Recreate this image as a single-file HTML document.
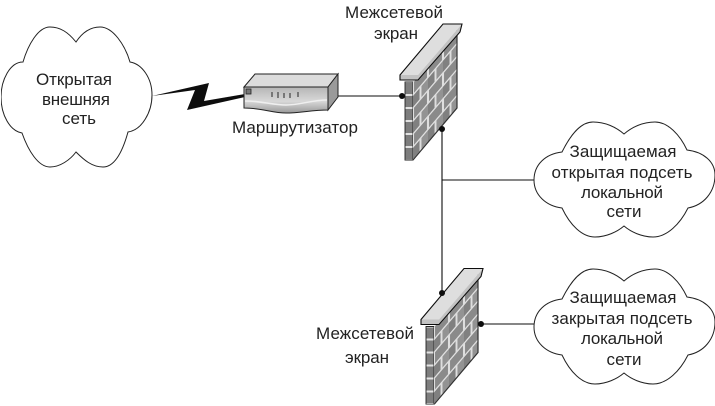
<!DOCTYPE html>
<html lang="ru">
<head>
<meta charset="utf-8">
<title>Схема сети</title>
<style>
html,body{margin:0;padding:0;background:#fff;width:715px;height:406px;overflow:hidden}
svg{display:block}
text{font-family:"Liberation Sans",sans-serif;font-size:17px;fill:#222;text-anchor:middle}
</style>
</head>
<body>
<svg width="715" height="406" viewBox="0 0 715 406" xmlns="http://www.w3.org/2000/svg">
<defs>
<filter id="soft" x="0" y="0" width="100%" height="100%"><feGaussianBlur stdDeviation="0.35"/></filter>
<pattern id="bricks" width="15" height="26" patternUnits="userSpaceOnUse" patternTransform="matrix(1 -1.17 0 1 413 82)">
<rect width="15" height="26" fill="#dedede"/>
<rect x="1" y="1" width="13" height="11" fill="#8a8a8a"/>
<rect x="-6.5" y="14" width="13" height="11" fill="#808080"/>
<rect x="8.5" y="14" width="13" height="11" fill="#939393"/>
</pattern>
<pattern id="strip" width="8" height="13" patternUnits="userSpaceOnUse" patternTransform="translate(405 82)">
<rect width="8" height="13" fill="#e2e2e2"/>
<rect width="8" height="11" y="1" fill="#7d7d7d"/>
</pattern>
<linearGradient id="rf" x1="0" y1="0" x2="0" y2="1">
<stop offset="0" stop-color="#b5b5b5"/><stop offset=".55" stop-color="#d8d8d8"/><stop offset="1" stop-color="#999"/>
</linearGradient>
<g id="wall">
<polygon points="405,82 413,82 413,160 405,160" fill="url(#strip)" stroke="#222" stroke-width=".9"/>
<polygon points="413,82 457,30 457,108 413,160" fill="url(#bricks)"/>
<path d="M457,30 V108 L413,160" fill="none" stroke="#333" stroke-width="1.2"/>
<polygon points="400,75 443,24 462,24 418,75" fill="#dedede"/>
<polygon points="400,75 418,75 462,24 460,32 418,80 400,80" fill="#c2c2c2"/>
<path d="M400,80 V75 L443,24 H462 L460,32 L418,80 Z" fill="none" stroke="#111" stroke-width="1.1"/>
</g>
<path id="c2" d="M624,134 C616,127 605,122 593,122 C580,122 570,136 562,152 C545,154 534,165 534,180 C534,195 546,206 562,208 C570,225 582,237 595,237 C606,237 617,232 624,226 C631,232 642,237 653,237 C667,237 680,224 688,208 C704,205 715,192 715,175 C715,162 704,152 687,150 C680,135 668,122 655,122 C643,122 632,127 624,134 Z" fill="#fff" stroke="#222" stroke-width="1"/>
</defs>

<g filter="url(#soft)">
<!-- connectors -->
<g stroke="#111" stroke-width="1.1" fill="none">
<line x1="338" y1="96" x2="402" y2="96"/>
<line x1="442" y1="129" x2="442" y2="293"/>
<line x1="442" y1="180" x2="534" y2="180"/>
<line x1="481" y1="324" x2="534" y2="324"/>
</g>

<!-- open cloud -->
<path d="M76,42 C68,32 60,27 50,27 C38,27 28,45 23,62 C10,62 1,80 1,97 C1,115 10,131 22,133 C28,150 38,167 50,167 C60,167 70,160 76,152 C84,160 92,167 103,167 C115,167 123,150 128,132 C142,130 152,112 152,95 C152,78 142,64 130,62 C125,45 113,27 100,27 C90,27 82,33 76,42 Z" fill="#fff" stroke="#222" stroke-width="1"/>
<text x="74" y="85" textLength="76">Открытая</text>
<text x="76" y="105" textLength="68">внешняя</text>
<text x="79" y="124" textLength="34">сеть</text>

<!-- lightning -->
<polygon points="152,96 209,83 204,101 245,94 245,97 187,110 195,90" fill="#0c0c0c"/>

<!-- router -->
<polygon points="244,87 255,74 338,74 328,87" fill="#dcdcdc" stroke="#222" stroke-width="1"/>
<polygon points="328,87 338,74 338,97 328,110" fill="#9a9a9a" stroke="#222" stroke-width="1"/>
<path d="M244,87 H328 V110 C312,110 300,113 286,113 C272,113 262,108 244,108 Z" fill="url(#rf)" stroke="#222" stroke-width="1"/>
<path d="M245,101 C262,101 272,105 286,105 C300,105 312,100 327,100" stroke="#efefef" stroke-width="1.5" fill="none"/>
<rect x="246" y="89" width="5" height="5" fill="#777" stroke="#222" stroke-width=".8"/>
<path d="M272,92 v5 M278,92 v6 M284,93 v5 M290,93 v5 M298,92 v5" stroke="#555" stroke-width="1.4" fill="none"/>
<text x="295" y="133" textLength="126">Маршрутизатор</text>

<!-- firewalls -->
<use href="#wall"/>
<use href="#wall" transform="translate(21,244.5)"/>
<g fill="#0a0a0a">
<circle cx="402" cy="96" r="3"/>
<circle cx="442" cy="129" r="3"/>
<circle cx="442" cy="293" r="3"/>
<circle cx="481" cy="324" r="3"/>
</g>
<text x="394" y="18" textLength="98">Межсетевой</text>
<text x="396" y="39" textLength="44">экран</text>
<text x="365" y="339" textLength="98">Межсетевой</text>
<text x="367" y="363" textLength="44">экран</text>

<!-- protected clouds -->
<use href="#c2"/>
<use href="#c2" transform="translate(0,147)"/>
<text x="623" y="157" textLength="107">Защищаемая</text>
<text x="622" y="178" textLength="141">открытая подсеть</text>
<text x="622" y="198" textLength="82">локальной</text>
<text x="624" y="217" textLength="35">сети</text>
<text x="623" y="303" textLength="107">Защищаемая</text>
<text x="622" y="324" textLength="141">закрытая подсеть</text>
<text x="622" y="344" textLength="82">локальной</text>
<text x="624" y="365" textLength="35">сети</text>
</g>
</svg>
</body>
</html>
